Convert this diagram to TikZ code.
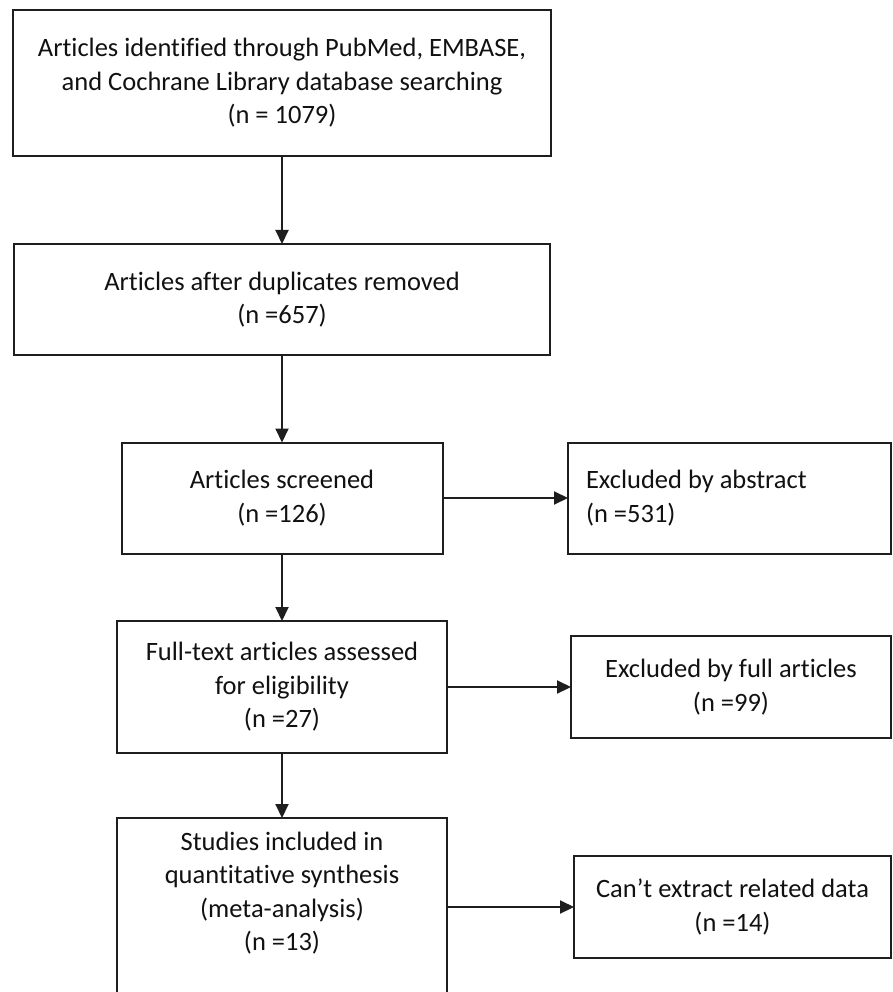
\documentclass[tikz,border=0pt]{standalone}
\usepackage{fontspec}
\setmainfont{Carlito}[Ligatures={NoCommon}]
\usetikzlibrary{arrows.meta}
\definecolor{linec}{HTML}{1E1E1E}
\definecolor{textc}{HTML}{111111}
\begin{document}
\begin{tikzpicture}[x=1pt,y=-1pt,
  box/.style={draw=linec, line width=2pt, inner sep=0pt, outer sep=0pt,
    align=center, font=\fontsize{26.5}{33.5}\selectfont, text=textc},
  plain/.style={inner sep=0pt, outer sep=0pt, align=center,
    font=\fontsize{26.5}{33.5}\selectfont, text=textc},
  arr/.style={draw=linec, line width=2pt, -{Triangle[length=14pt,width=13pt]}}]
\useasboundingbox (0,0) rectangle (892,992);
\clip (0,0) rectangle (892,992);
\fill[white] (0,0) rectangle (892,992);

\node[box, minimum width=538pt, minimum height=146pt] (b1) at (282,83)
  {Articles identified through PubMed, EMBASE,\\and Cochrane Library database searching\\(n = 1079)};
\node[box, minimum width=536pt, minimum height=111pt] (b2) at (282,299.5)
  {Articles after duplicates removed\\(n =657)};
\node[box, minimum width=321pt, minimum height=111pt] (b3) at (282,498)
  {Articles screened\\(n =126)};
\node[box, minimum width=323pt, minimum height=111pt, text width=287pt, align=flush left] (r1) at (729.5,498)
  {Excluded by abstract\\(n =531)};
\node[box, minimum width=330pt, minimum height=132pt] (b4) at (282,687)
  {Full-text articles assessed\\for eligibility\\(n =27)};
\node[box, minimum width=320pt, minimum height=102pt] (r2) at (731,687)
  {Excluded by full articles\\(n =99)};
\node[plain, minimum width=330pt, minimum height=150pt] (b5) at (282,893)
  {Studies included in\\quantitative synthesis\\(meta-analysis)\\(n =13)};
\draw[linec, line width=2pt] ([yshift=-60pt]b5.south west) -- (b5.north west)
  -- (b5.north east) -- ([yshift=-60pt]b5.south east);
\node[box, minimum width=317pt, minimum height=102pt] (r3) at (732.5,907)
  {Can’t extract related data\\(n =14)};

\draw[arr] (b1.south) -- (b1.south |- b2.north);
\draw[arr] (b2.south) -- (b2.south |- b3.north);
\draw[arr] (b3.south) -- (b3.south |- b4.north);
\draw[arr] (b4.south) -- (b4.south |- b5.north);
\draw[arr] (b3.east) -- (r1.west);
\draw[arr] (b4.east) -- (r2.west);
\draw[arr] (b5.east |- r3.west) -- (r3.west);
\end{tikzpicture}
\end{document}
